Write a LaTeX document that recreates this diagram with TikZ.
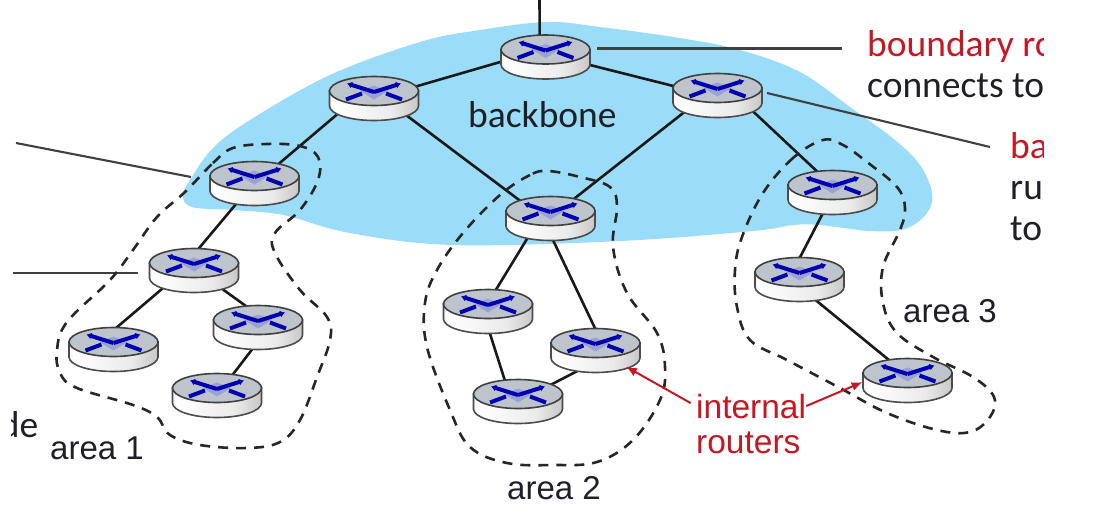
\documentclass[tikz,border=0pt]{standalone}
\usepackage{fontspec}
\setmainfont{Liberation Sans}
\newfontfamily\calibrifont{Carlito}
\usetikzlibrary{shapes.geometric,backgrounds,arrows.meta}
\tikzset{>=latex}
\definecolor{Backbone}{RGB}{155,221,248}
\definecolor{RouterTop}{RGB}{190,196,203}
\definecolor{RouterBlue}{RGB}{0,0,178}
\definecolor{LabelRed}{RGB}{196,24,36}
\definecolor{LabelDark}{RGB}{30,32,38}
\pgfdeclarehorizontalshading{routerside}{100bp}{color(0bp)=(black!35); color(28bp)=(white); color(60bp)=(black!8); color(100bp)=(black!45)}
\tikzset{
  routernode/.style={ellipse,minimum width=90,minimum height=44,inner sep=0,outer sep=0},
  link/.style={line width=2.6,black!90},
  callout/.style={line width=2.1,black!75},
  arealine/.style={line width=2.6,black!85,dash pattern=on 10pt off 8pt},
  redarrow/.style={-{Latex[length=11pt,width=9pt]},line width=2,LabelRed},
  routerarm/.style={RouterBlue,line width=4},
  areatext/.style={anchor=base west,inner sep=0,font=\fontsize{33}{36}\selectfont,text=LabelDark},
  redtext/.style={anchor=base west,inner sep=0,font=\fontsize{33.5}{36}\selectfont,text=LabelRed},
  calred/.style={anchor=base west,inner sep=0,font=\calibrifont\fontsize{37.5}{40}\selectfont,text=LabelRed},
  caldark/.style={anchor=base west,inner sep=0,font=\calibrifont\fontsize{37.5}{40}\selectfont,text=LabelDark}
}
% one router: named node plus the drawn disc, y points up inside the scope
\newcommand{\router}[3]{%
  \node[routernode] (#1) at (#2,#3) {};
  \begin{scope}[shift={(#1.center)},yscale=-1]
    \draw[black!70,line width=1.6,shading=routerside] (-44.5,7.5) -- (-44.5,-7.5) arc[start angle=180,end angle=360,x radius=44.5,y radius=14.5] -- (44.5,7.5) -- cycle;
    \draw[black!75,line width=1.6,fill=RouterTop] (0,7.5) ellipse[x radius=44.5,y radius=14.5];
    \fill[blue!18!RouterTop] (-14,7.5) -- (0,13) -- (14,7.5) -- (0,-1) -- cycle;
    \draw[routerarm,-{Latex[length=5pt,width=7pt]}] (0,6.5) -- (-27,15);
    \draw[routerarm,-{Latex[length=5pt,width=7pt]}] (0,6.5) -- (27,15);
    \draw[routerarm] (-28,-1) -- (-12,5);
    \draw[routerarm] (28,-1) -- (12,5);
  \end{scope}
}
\begin{document}
\begin{tikzpicture}[x=1pt,y=-1pt]
  \useasboundingbox (0,0) rectangle (1118,504);
  % routers
  \foreach \name/\x/\y in {top/545.5/57,hubl/374/98.5,hubr/717.5/95.5,
      abra/254.5/183.5,inta/194/270.5,lefta/113.5/349.5,righta/258/327.5,lowa/217/395.5,
      abrb/550.5/218.5,leftb/488/311.5,rightb/595.5/350.5,lowb/518/401.5,
      abrc/832.5/192.5,midc/799.5/279.5,lowc/907.5/380.5}
    {\router{\name}{\x}{\y}}
  % free ends of the outside lines
  \coordinate (uplink) at (539.5,0);
  \coordinate (bnda) at (597,48.5);
  \coordinate (bndb) at (842,48.5);
  \coordinate (bboa) at (767,93);
  \coordinate (bbob) at (990,147);
  \coordinate (abra1) at (16,143);
  \coordinate (abra2) at (191,177);
  \coordinate (inta1) at (13,273);
  \coordinate (inta2) at (138,273);
  \begin{scope}[on background layer]
    \fill[Backbone] plot[smooth cycle,tension=0.6] coordinates {(250,120) (330,75) (420,42) (480,30)
      (547,22) (600,27) (680,38) (740,50) (800,72) (850,107) (895,140) (920,165) (932,193) (927,213) (905,229)
      (870,231) (820,225) (793,225) (753,231) (620,241) (453,245) (350,233) (283,215) (233,210)
      (192,207) (183,195) (192,177) (213,148)};
    \foreach \a/\b in {top.186/hubl.16,top.350/hubr.168,hubl.202/abra.39,hubl.333/abrb.150,
        hubr.206/abrb.40,hubr.337/abrc.126,abra.228/inta.78,inta.209/lefta.82,inta.327.5/righta.119,
        righta.255/lowa.53,abrb.220/leftb.70,abrb.277/rightb.91,leftb.275/lowb.122,rightb.229/lowb.27,
        abrc.245/midc.89,midc.308/lowc.132}
      {\draw[link] (\a) -- (\b);}
    \draw[link] (uplink) -- (top.105);
    \draw[callout] (bnda) -- (bndb);
    \draw[callout] (bboa) -- (bbob);
    \draw[callout] (abra1) -- (abra2);
    \draw[callout] (inta1) -- (inta2);
  \end{scope}
  % areas
  \draw[arealine] plot[smooth cycle,tension=0.62] coordinates {(185,192) (213,163) (233,148) (267,144) (300,146)
    (318,157) (318,180) (300,210) (275,233) (275,253) (300,290) (327,317) (330,340) (317,377) (300,420)
    (280,442) (247,448) (200,445) (170,435) (157,417) (133,405) (77,388) (60,373) (57,350) (67,322)
    (110,280) (133,250) (157,217)};
  \draw[arealine] plot[smooth cycle,tension=0.62] coordinates {(548,171) (530,175) (500,195) (463,233) (437,270)
    (425,303) (427,347) (450,410) (470,447) (507,463) (553,465) (597,462) (633,440) (660,400) (665,367)
    (657,333) (627,293) (613,247) (617,207) (610,187) (580,177)};
  \draw[arealine] plot[smooth cycle,tension=0.62] coordinates {(823,140) (793,158) (763,193) (742,237) (735,270)
    (737,307) (750,340) (787,360) (840,388) (887,413) (937,430) (970,432) (990,417) (994,397) (973,377)
    (933,357) (897,333) (883,303) (883,267) (900,230) (905,208) (897,187) (867,162) (843,145)};
  % texts
  \node[caldark] (bbone) at (468,127) {backbone};
  \node[areatext] (area1) at (50,459) {area 1};
  \node[areatext] (area2) at (507,499) {area 2};
  \node[areatext] (area3) at (903,322) {area 3};
  \node[redtext] (internal) at (696,418) {internal};
  \node[redtext] (routers) at (696,453) {routers};
  \begin{scope}
    \clip (11,0) rectangle (1043,504);
    \node[calred] (bndred) at (867,56) {boundary ro};
    \node[caldark] (bnddark) at (867,97) {connects to};
    \node[calred] (bbored) at (1010,158) {ba};
    \node[caldark] (bbodark) at (1010,199) {ru};
    \node[caldark] (bbolast) at (1010,240) {to};
    \node[caldark,anchor=base east] (cutde) at (38.5,437) {de};
  \end{scope}
  % arrows out of the red label
  \draw[redarrow,shorten <=6pt] (internal.west) -- (rightb.332);
  \draw[redarrow] (internal.east) -- (lowc.182);
\end{tikzpicture}
\end{document}
